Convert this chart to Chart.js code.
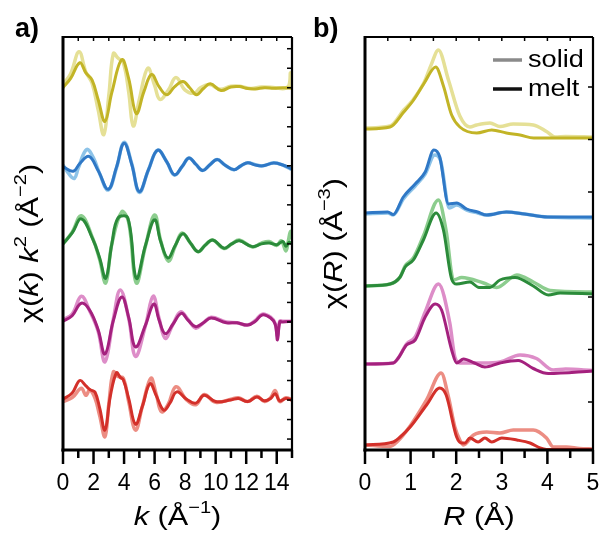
<!DOCTYPE html>
<html>
<head>
<meta charset="utf-8">
<script src="https://cdn.jsdelivr.net/npm/chart.js@4.4.1/dist/chart.umd.min.js"></script>
<style>
  html, body { margin: 0; padding: 0; background: #fff; }
  #wrap { position: relative; width: 603px; height: 534px; }
  canvas { position: absolute; top: 0; }
  #chartA { left: 0; }
  #chartB { left: 300px; }
</style>
</head>
<body>
<div id="wrap">
  <canvas id="chartA" width="300" height="534"></canvas>
  <canvas id="chartB" width="303" height="534"></canvas>
</div>
<script>
// samples, top to bottom
const samples = ['olive', 'blue', 'green', 'magenta', 'red'];
const meltColors  = ['#c2b426', '#2f78c6', '#2b8b3a', '#a4217e', '#d3302a'];
const solidColors = ['#e5e096', '#8dc3e8', '#8ccd8e', '#dd8dc8', '#ec8d83'];

// ---- panel a: chi(k) k^2, vertical offsets per sample
const kOffsets = [40, 30, 20, 10, 0];

const kMeltOlive   = [0, 0.5, 1.1, 1.5, 1.9, 2.3, 2.75, 3.2, 3.85, 4.3, 4.8, 5.3, 5.8, 6.3, 6.8, 7.3, 7.85, 8.3, 8.75, 9.2, 9.65, 10.35, 11.0, 11.55, 12.1, 12.6, 13.2, 13.8, 14.4, 15];
const chiMeltOlive = [0, 1.2, 3.2, 1.9, 1.0, -1.5, -4.3, -0.6, 3.6, 1.2, -3.3, -0.5, 1.7, 0.1, -0.9, 0.1, 0.8, 0, -0.9, -0.1, 0.5, -0.35, 0.1, 0.15, -0.1, -0.15, 0, -0.05, 0, -0.05];
const kSolidOlive   = [0, 0.5, 1.05, 1.5, 1.9, 2.3, 2.67, 3.0, 3.3, 3.6, 3.95, 4.3, 4.6, 5.0, 5.55, 6.0, 6.35, 6.9, 7.4, 8.0, 8.6, 9.0, 9.6, 10.3, 11.0, 11.6, 12.3, 13.0, 13.9, 14.5, 14.8, 14.9, 15];
const chiSolidOlive = [0.4, 1.8, 4.6, 2.0, 0.6, -2.8, -6.0, -1.0, 4.4, 3.8, 3.2, -0.5, -4.9, -1.5, 2.5, 0.3, -1.5, -0.3, 1.3, -0.3, -0.7, 0, 0.4, -0.2, 0.2, 0.2, -0.1, 0.1, 0, -0.1, 0.3, 1.9, 0];

const kMeltBlue   = [0, 0.67, 1.1, 1.7, 2.3, 2.96, 3.5, 4.0, 4.5, 5.0, 5.6, 6.2, 6.8, 7.3, 7.8, 8.25, 8.7, 9.15, 9.6, 10.1, 10.6, 11.2, 11.65, 12.1, 12.6, 13.1, 13.8, 14.4, 15];
const chiMeltBlue = [-0.1, -0.7, 0.3, 1.2, -0.6, -3.0, -0.2, 2.9, 0.2, -3.3, -0.5, 2.0, 0.5, -1.15, -0.1, 1.0, 0.2, -0.6, 0.1, 0.8, 0.1, -0.5, 0, 0.4, 0.1, 0, 0.35, 0.1, -0.4];
const kSolidBlue   = [0, 0.45, 0.75, 1.0, 1.55, 2.0, 2.4, 2.96, 3.5, 4.0, 4.5, 5.0, 5.6, 6.2, 6.8, 7.3, 7.8, 8.25, 8.7, 9.15, 9.6, 10.1, 10.6, 11.2, 11.65, 12.1, 12.6, 13.1, 13.8, 14.4, 15];
const chiSolidBlue = [0.1, -1.2, -1.6, -0.3, 2.1, 1.0, -1.0, -3.1, -0.3, 3.0, 0.3, -3.4, -0.5, 2.0, 0.5, -1.2, -0.1, 1.0, 0.2, -0.6, 0.1, 0.8, 0.1, -0.5, 0, 0.4, 0.15, 0, 0.4, 0.1, -0.5];

const kMeltGreen   = [0, 0.6, 1.2, 1.95, 2.4, 2.8, 3.2, 3.6, 4.25, 4.8, 5.4, 6.0, 6.4, 6.87, 7.35, 7.85, 8.35, 8.85, 9.3, 9.8, 10.55, 11.05, 11.55, 12.4, 13.0, 13.5, 14.0, 14.4, 14.6, 14.8, 15];
const chiMeltGreen = [0, 1.4, 3.2, 0.6, -1.8, -4.4, 0, 3.3, 3.3, -4.4, -0.2, 3.1, 0.3, -1.8, -0.2, 1.3, 0.1, -1.0, -0.2, 0.5, -0.55, 0, 0.4, -0.35, 0, 0.1, -0.1, 0.3, -0.3, 0.2, 0];
const kSolidGreen   = [0, 0.6, 1.2, 1.95, 2.4, 2.8, 3.2, 3.85, 4.3, 4.8, 5.4, 6.0, 6.4, 6.9, 7.35, 7.8, 8.35, 8.85, 9.3, 9.8, 10.55, 11.05, 11.55, 12.4, 13.0, 13.5, 14.0, 14.3, 14.6, 14.75, 14.9, 15];
const chiSolidGreen = [0, 1.5, 3.6, 0.7, -2.0, -5.0, 0, 4.1, 2.8, -5.0, -0.3, 3.7, 0.4, -2.2, -0.3, 1.4, 0.1, -1.0, -0.2, 0.5, -0.6, 0, 0.5, -0.4, 0.1, 0.3, -0.2, 0.4, -0.9, 0.3, 1.6, 0.6];

const kMeltMagenta   = [0, 0.6, 1.2, 1.75, 2.3, 2.75, 3.3, 3.85, 4.3, 4.75, 5.4, 5.95, 6.3, 6.7, 7.2, 7.75, 8.2, 8.7, 9.2, 9.7, 10.7, 11.4, 12.1, 12.6, 13.05, 13.6, 13.9, 14.05, 14.2, 14.4, 15];
const chiMeltMagenta = [0.1, 0.8, 2.4, 1.5, -1.0, -4.1, 0.2, 3.2, 0.6, -3.2, -0.4, 2.3, 0.2, -1.5, -0.3, 1.1, 0.2, -0.6, -0.1, 0.5, -0.1, -0.1, -0.4, 0.1, 0.9, 0.5, -0.3, -2.3, 0, 0, 0.1];
const kSolidMagenta   = [0, 0.6, 1.2, 1.75, 2.3, 2.75, 3.3, 3.75, 4.3, 4.75, 5.4, 5.9, 6.3, 6.7, 7.2, 7.7, 8.2, 8.7, 9.2, 9.7, 10.7, 11.4, 12.1, 12.6, 13.05, 13.6, 13.9, 14.05, 14.2, 14.4, 15];
const chiSolidMagenta = [0.3, 1.0, 3.3, 1.4, -1.2, -5.1, 0.4, 4.1, 0.5, -4.4, -0.5, 3.3, 0.4, -2.1, -0.3, 1.3, 0.3, -0.8, -0.1, 0.6, 0, -0.1, -0.4, 0.2, 1.0, 0.6, -0.2, -1.8, 0.1, 0.1, 0.1];

const kMeltRed   = [0, 0.6, 1.1, 1.5, 1.8, 2.1, 2.4, 2.75, 3.1, 3.5, 3.75, 3.95, 4.3, 4.75, 5.2, 5.7, 6.1, 6.6, 7.0, 7.45, 8.1, 8.7, 9.25, 10.0, 11.0, 11.5, 12.1, 12.7, 13.2, 13.6, 13.9, 14.2, 14.6, 15];
const chiMeltRed = [0.1, 0.9, 2.5, 1.8, 1.3, 1.0, -1.0, -3.85, 0.5, 3.5, 2.9, 2.6, 0.2, -3.1, -0.8, 2.1, 0.6, -1.3, -0.4, 1.05, 0.1, -0.4, 0.6, -0.2, 0, 0.2, -0.2, 0.4, -0.1, 0.2, 0.8, -0.1, 0.2, 0];
const kSolidRed   = [0, 0.6, 1.2, 1.5, 1.75, 2.1, 2.4, 2.75, 3.0, 3.3, 3.6, 3.95, 4.3, 4.75, 5.2, 5.75, 6.1, 6.45, 6.9, 7.4, 8.1, 8.7, 9.25, 10.0, 11.0, 11.5, 12.1, 12.7, 13.2, 13.6, 13.9, 14.2, 14.6, 15];
const chiSolidRed = [-0.2, 0.3, 1.5, 0.6, 1.3, 0.2, -2.0, -4.7, -0.5, 3.6, 3.0, 2.8, -0.2, -3.85, -0.8, 2.8, 0.8, -1.5, -0.5, 1.7, 0, -0.6, 0.7, -0.3, 0.1, 0.3, -0.2, 0.5, -0.2, 0.3, 1.2, -0.2, 0.3, 0];

// ---- panel b: chi(R), vertical offsets per sample
const rOffsets = [31.7, 23.2, 15.9, 8.1, 0];

const rMeltOlive    = [0, 0.55, 0.85, 1.05, 1.3, 1.55, 1.72, 1.9, 2.08, 2.45, 2.78, 3.1, 3.4, 3.7, 4.0, 4.5, 5];
const chirMeltOlive = [-0.1, 0.1, 1.6, 2.7, 4.5, 6.1, 4.2, 1.3, 0.1, -0.5, -0.2, -0.5, -0.7, -1.0, -1.0, -1.0, -1.0];
const rSolidOlive    = [0, 0.55, 0.85, 1.05, 1.3, 1.45, 1.61, 1.83, 2.08, 2.3, 2.45, 2.74, 2.96, 3.25, 3.69, 3.98, 4.17, 4.4, 5];
const chirSolidOlive = [0, 0.2, 1.8, 2.8, 4.6, 6.3, 7.8, 4.8, 1.2, 0.1, 0.3, 0.5, 0.15, 0.4, 0.3, -0.35, -0.9, -0.85, -0.9];

const rMeltBlue    = [0, 0.5, 0.62, 0.84, 1.1, 1.32, 1.51, 1.64, 1.83, 2.01, 2.23, 2.47, 2.67, 3.1, 3.5, 4.0, 5];
const chirMeltBlue = [0, 0.1, -0.15, 1.6, 2.9, 4.1, 6.3, 5.6, 0.9, 1.0, 0.4, 0.1, -0.2, 0.1, -0.1, -0.4, -0.4];
const rSolidBlue    = [0, 0.5, 0.62, 0.84, 1.1, 1.32, 1.53, 1.66, 1.85, 2.01, 2.23, 2.47, 2.67, 3.1, 3.5, 4.0, 5];
const chirSolidBlue = [-0.1, 0, -0.2, 1.4, 2.7, 3.9, 5.8, 5.2, 0.5, 0.8, 0.3, 0, -0.2, 0.1, -0.1, -0.4, -0.5];

const rMeltGreen    = [0, 0.55, 0.77, 0.88, 1.06, 1.28, 1.56, 1.72, 1.9, 2.01, 2.3, 2.5, 2.74, 2.96, 3.29, 3.69, 4.02, 4.28, 5];
const chirMeltGreen = [0, 0.2, 0.9, 1.9, 2.6, 4.6, 7.3, 5.6, 0.7, 0.2, 0.4, -0.15, -0.15, 0.6, 0.85, 0, -0.9, -0.7, -0.8];
const rSolidGreen    = [0, 0.55, 0.77, 0.88, 1.06, 1.28, 1.61, 1.78, 1.94, 2.12, 2.6, 2.89, 3.33, 3.69, 4.06, 5];
const chirSolidGreen = [0, 0.2, 0.9, 2.0, 2.8, 5.0, 8.6, 5.5, 0.6, 0.85, 0.3, -0.15, 1.1, 0.4, -0.45, -0.6];

const rMeltMagenta    = [0, 0.62, 0.73, 0.91, 1.1, 1.32, 1.54, 1.68, 1.9, 2.01, 2.16, 2.4, 2.63, 2.96, 3.36, 3.69, 4.02, 5];
const chirMeltMagenta = [0, 0.1, 0.6, 1.9, 2.4, 4.7, 6.0, 5.4, 1.4, 0.1, 0.5, 0.1, -0.3, 0.1, 0.35, -0.45, -0.95, -0.7];
const rSolidMagenta    = [0, 0.62, 0.73, 0.91, 1.1, 1.32, 1.61, 1.86, 1.97, 2.08, 2.6, 2.96, 3.4, 3.76, 4.13, 4.4, 5];
const chirSolidMagenta = [0, 0.1, 0.6, 2.0, 2.7, 5.2, 8.0, 4.1, 0.7, 0.1, 0.1, 0.2, 0.9, 0.55, -0.6, -0.5, -0.65];

const rMeltRed    = [0, 0.62, 0.77, 0.99, 1.35, 1.64, 1.78, 2.01, 2.12, 2.19, 2.3, 2.48, 2.63, 2.78, 3.0, 3.33, 3.62, 3.84, 3.98, 4.5, 5];
const chirMeltRed = [0, 0.3, 0.8, 1.8, 4.0, 5.7, 5.0, 0.8, 0.2, 0.2, 0.7, 0.3, 0.7, 0.3, 0.7, 0.5, 0.2, -0.3, -0.45, -0.45, -0.45];
const rSolidRed    = [0, 0.55, 0.7, 0.99, 1.35, 1.67, 1.83, 1.97, 2.08, 2.16, 2.38, 2.67, 2.96, 3.25, 3.69, 3.98, 4.13, 4.42, 4.7, 5];
const chirSolidRed = [0, -0.15, 0.3, 1.9, 4.5, 7.2, 4.8, 1.8, 0.5, 0, 1.0, 1.3, 1.2, 1.5, 1.5, 0.7, -0.2, -0.2, -0.35, -0.4];

// inner tick marks on the right frame
const rightTicksA = [-5, -2.5, 0, 2.5, 5, 7.5, 10, 12.5, 15, 17.5, 20, 22.5, 25, 27.5, 30, 32.5, 35, 37.5, 40, 42.5, 45];
const rightTicksB = [4.3, 9.55, 14.8, 20.05, 25.3, 30.55, 35.8];

const legendLabels = ['solid', 'melt'];
const legendColors = ['#8a8a8a', '#111111'];

const FONT = "'Liberation Sans', Arial, Helvetica, sans-serif";
const STRETCH = 1.18; // text in the figure runs wider than Liberation Sans
Chart.defaults.font.family = FONT;

function pts(xs, ys, off) {
  return xs.map((x, i) => ({ x: x, y: ys[i] + off }));
}

function lineSet(xs, ys, off, color, width, order, smooth) {
  const set = {
    data: pts(xs, ys, off),
    borderColor: color,
    borderWidth: width,
    pointRadius: 0,
    fill: false,
    order: order
  };
  if (smooth) set.tension = 0.4;
  else set.cubicInterpolationMode = 'monotone';
  return set;
}

function buildSets(melt, solid, offsets, smooth) {
  const sets = [];
  samples.forEach((s, i) => {
    sets.push(lineSet(solid[i][0], solid[i][1], offsets[i], solidColors[i], 3.5, 1, smooth));
    sets.push(lineSet(melt[i][0], melt[i][1], offsets[i], meltColors[i], 3, 0, smooth));
  });
  return sets;
}

function fontFor(run, size) {
  const sz = run.sup ? Math.round(size * 0.66) : size;
  return (run.i ? 'italic ' : '') + sz + 'px ' + FONT;
}

// draw text made of runs (italic / superscript parts), centred at cx, cy
function drawRuns(ctx, runs, cx, cy, size, rotate) {
  ctx.save();
  ctx.translate(cx, cy);
  if (rotate) ctx.rotate(-Math.PI / 2);
  ctx.scale(STRETCH, 1);
  let total = 0;
  const widths = runs.map(r => {
    ctx.font = fontFor(r, size);
    const w = ctx.measureText(r.t).width;
    total += w;
    return w;
  });
  let x = -total / 2;
  ctx.textAlign = 'left';
  ctx.textBaseline = 'middle';
  ctx.fillStyle = '#000';
  runs.forEach((r, i) => {
    ctx.font = fontFor(r, size);
    ctx.fillText(r.t, x, r.sup ? -size * 0.36 : 0);
    x += widths[i];
  });
  ctx.restore();
}

function decor(opt) {
  return {
    id: 'decor',
    afterDatasetsDraw(chart) {
      const ctx = chart.ctx;
      const a = chart.chartArea;
      const xs = chart.scales.x, ys = chart.scales.y;
      const seg = (x1, y1, x2, y2) => { ctx.beginPath(); ctx.moveTo(x1, y1); ctx.lineTo(x2, y2); ctx.stroke(); };
      ctx.save();
      ctx.strokeStyle = '#000';
      ctx.lineCap = 'butt';
      xs.ticks.forEach(t => {
        const px = xs.getPixelForValue(t.value);
        const major = t.label !== '';
        ctx.lineWidth = 2.5;
        seg(px, a.bottom, px, a.bottom + (major ? 14 : 8));
        ctx.lineWidth = 1.5;
        seg(px, a.top, px, a.top + 4);
      });
      ctx.lineWidth = 1.5;
      opt.rightTicks.forEach(v => {
        const py = ys.getPixelForValue(v);
        seg(a.right - 5, py, a.right, py);
      });
      // frame
      ctx.lineWidth = 2.2;
      seg(a.left, a.top, a.right, a.top);
      seg(a.right, a.top, a.right, a.bottom);
      ctx.lineWidth = 3;
      seg(a.left, a.top - 1, a.left, a.bottom + 1.5);
      seg(a.left - 1.5, a.bottom, a.right + 1, a.bottom);
      ctx.restore();

      const cx = (a.left + a.right) / 2;
      drawRuns(ctx, opt.xTitle, cx, 518, 26, false);
      drawRuns(ctx, opt.yTitle, opt.yTitleX, (a.top + a.bottom) / 2, 26, true);

      ctx.save();
      ctx.font = 'bold 27px ' + FONT;
      ctx.fillStyle = '#000';
      ctx.textBaseline = 'alphabetic';
      ctx.fillText(opt.panel, opt.panelX, 37);
      ctx.restore();

      if (opt.legend) {
        ctx.save();
        ctx.textBaseline = 'middle';
        ctx.fillStyle = '#000';
        legendLabels.forEach((lab, i) => {
          const y = 60 + i * 29;
          ctx.strokeStyle = legendColors[i];
          ctx.lineWidth = 3.5;
          seg(a.right - 100, y, a.right - 71, y);
          ctx.save();
          ctx.translate(a.right - 65, y + 1);
          ctx.scale(STRETCH, 1);
          ctx.font = '23px ' + FONT;
          ctx.fillText(lab, 0, 0);
          ctx.restore();
        });
        ctx.restore();
      }
    }
  };
}

function baseOptions(pad, xMax, xStep, yMin, yMax, labelFn) {
  return {
    responsive: false,
    animation: false,
    devicePixelRatio: 1,
    layout: { padding: pad },
    plugins: { legend: { display: false }, tooltip: { enabled: false } },
    scales: {
      x: {
        type: 'linear', min: 0, max: xMax,
        afterFit: s => { s.height = 84; s.paddingLeft = 0; s.paddingRight = 0; },
        grid: { display: false, drawTicks: false },
        border: { display: false },
        ticks: {
          stepSize: xStep, autoSkip: false, maxRotation: 0, minRotation: 0,
          padding: 20, color: '#000', font: { size: 23 },
          callback: labelFn
        }
      },
      y: { type: 'linear', display: false, min: yMin, max: yMax }
    }
  };
}

const meltK = [[kMeltOlive, chiMeltOlive], [kMeltBlue, chiMeltBlue], [kMeltGreen, chiMeltGreen], [kMeltMagenta, chiMeltMagenta], [kMeltRed, chiMeltRed]];
const solidK = [[kSolidOlive, chiSolidOlive], [kSolidBlue, chiSolidBlue], [kSolidGreen, chiSolidGreen], [kSolidMagenta, chiSolidMagenta], [kSolidRed, chiSolidRed]];
const meltR = [[rMeltOlive, chirMeltOlive], [rMeltBlue, chirMeltBlue], [rMeltGreen, chirMeltGreen], [rMeltMagenta, chirMeltMagenta], [rMeltRed, chirMeltRed]];
const solidR = [[rSolidOlive, chirSolidOlive], [rSolidBlue, chirSolidBlue], [rSolidGreen, chirSolidGreen], [rSolidMagenta, chirSolidMagenta], [rSolidRed, chirSolidRed]];

new Chart(document.getElementById('chartA'), {
  type: 'line',
  data: { datasets: buildSets(meltK, solidK, kOffsets, true) },
  options: baseOptions({ left: 63, right: 8, top: 37, bottom: 0 }, 15, 1, -6.4, 46.5,
    v => (v % 2 === 0 ? String(v) : '')),
  plugins: [decor({
    rightTicks: rightTicksA,
    panel: 'a)', panelX: 15, yTitleX: 31,
    xTitle: [{ t: 'k', i: true }, { t: ' (Å' }, { t: '−1', sup: true }, { t: ')' }],
    yTitle: [{ t: 'χ(' }, { t: 'k', i: true }, { t: ') ' }, { t: 'k', i: true }, { t: '2', sup: true }, { t: ' (Å' }, { t: '−2', sup: true }, { t: ')' }]
  })]
});

new Chart(document.getElementById('chartB'), {
  type: 'line',
  data: { datasets: buildSets(meltR, solidR, rOffsets, false) },
  options: baseOptions({ left: 65, right: 10, top: 37, bottom: 0 }, 5, 0.5, -0.5, 40.8,
    v => (Number.isInteger(v) ? String(v) : '')),
  plugins: [decor({
    rightTicks: rightTicksB,
    panel: 'b)', panelX: 13, yTitleX: 35, legend: true,
    xTitle: [{ t: 'R', i: true }, { t: ' (Å)' }],
    yTitle: [{ t: 'χ(' }, { t: 'R', i: true }, { t: ') (Å' }, { t: '−3', sup: true }, { t: ')' }]
  })]
});
</script>
</body>
</html>
